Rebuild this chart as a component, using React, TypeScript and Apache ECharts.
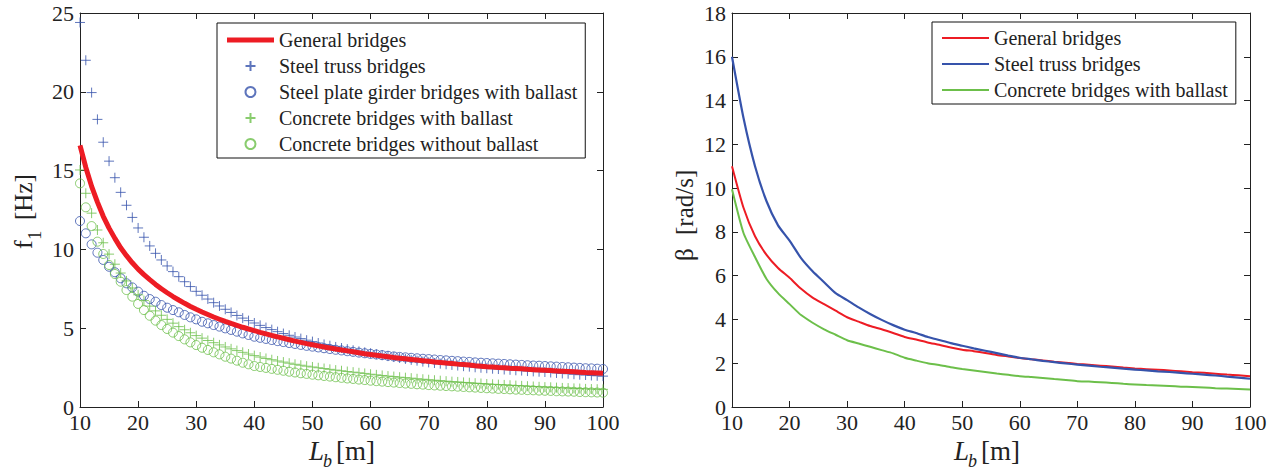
import React, { useEffect, useRef } from "react";
import * as echarts from "echarts";

// ---------- Data ----------
const LB_LEFT: number[] = Array.from({ length: 91 }, (_, i) => 10 + i);
const LB_RIGHT: number[] = Array.from({ length: 46 }, (_, i) => 10 + 2 * i);

const F_GENERAL = [16.6, 15.2, 14.0, 13.0, 12.1, 11.35, 10.7, 10.1, 9.6, 9.15,
  8.75, 8.4, 8.08, 7.78, 7.5, 7.25, 7.01, 6.79, 6.58, 6.38,
  6.2, 6.03, 5.87, 5.71, 5.57, 5.43, 5.3, 5.18, 5.06, 4.95,
  4.85, 4.74, 4.64, 4.54, 4.45, 4.36, 4.27, 4.18, 4.1, 4.02,
  3.95, 3.88, 3.81, 3.74, 3.68, 3.62, 3.56, 3.5, 3.44, 3.38,
  3.33, 3.28, 3.23, 3.19, 3.14, 3.1, 3.06, 3.02, 2.98, 2.94,
  2.9, 2.86, 2.83, 2.79, 2.76, 2.72, 2.69, 2.66, 2.62, 2.59,
  2.56, 2.54, 2.51, 2.49, 2.46, 2.44, 2.42, 2.39, 2.37, 2.35,
  2.33, 2.31, 2.29, 2.27, 2.25, 2.23, 2.21, 2.19, 2.18, 2.16, 2.14];

const F_STEEL_TRUSS = [24.4, 22.0, 19.95, 18.25, 16.8, 15.6, 14.55, 13.62, 12.8, 12.03,
  11.36, 10.77, 10.22, 9.75, 9.33, 8.95, 8.59, 8.27, 7.95, 7.64,
  7.34, 7.09, 6.85, 6.62, 6.41, 6.2, 6.0, 5.81, 5.64, 5.48,
  5.33, 5.18, 5.04, 4.91, 4.78, 4.66, 4.55, 4.44, 4.34, 4.24,
  4.15, 4.06, 3.97, 3.89, 3.81, 3.74, 3.67, 3.6, 3.53, 3.47,
  3.41, 3.35, 3.29, 3.23, 3.17, 3.11, 3.05, 2.99, 2.94, 2.88,
  2.83, 2.79, 2.75, 2.71, 2.67, 2.63, 2.59, 2.56, 2.52, 2.49,
  2.46, 2.43, 2.41, 2.38, 2.36, 2.33, 2.31, 2.28, 2.26, 2.24,
  2.22, 2.19, 2.16, 2.13, 2.11, 2.08, 2.05, 2.03, 2.0, 1.98, 1.96];

const F_STEEL_PLATE = [11.8, 11.02, 10.32, 9.79, 9.33, 8.9, 8.55, 8.17, 7.85, 7.59,
  7.32, 7.06, 6.85, 6.68, 6.47, 6.3, 6.15, 6.01, 5.84, 5.69,
  5.56, 5.41, 5.31, 5.2, 5.1, 4.99, 4.89, 4.78, 4.67, 4.57,
  4.46, 4.39, 4.32, 4.25, 4.18, 4.12, 4.06, 4.0, 3.94, 3.88,
  3.83, 3.78, 3.73, 3.68, 3.63, 3.59, 3.54, 3.5, 3.45, 3.41,
  3.37, 3.33, 3.29, 3.25, 3.21, 3.18, 3.15, 3.12, 3.09, 3.06,
  3.04, 3.01, 2.98, 2.96, 2.93, 2.91, 2.88, 2.86, 2.83, 2.81,
  2.79, 2.77, 2.75, 2.73, 2.71, 2.69, 2.67, 2.65, 2.63, 2.62,
  2.6, 2.58, 2.56, 2.54, 2.52, 2.5, 2.48, 2.46, 2.45, 2.43, 2.41];

const F_CONCRETE_WITH = [15.04, 13.56, 12.3, 11.23, 10.42, 9.7, 9.06, 8.5, 8.0, 7.55,
  7.12, 6.75, 6.4, 6.1, 5.82, 5.56, 5.32, 5.1, 4.9, 4.71,
  4.53, 4.37, 4.22, 4.08, 3.94, 3.81, 3.69, 3.58, 3.47, 3.36,
  3.26, 3.17, 3.08, 3.0, 2.92, 2.85, 2.78, 2.71, 2.65, 2.59,
  2.54, 2.49, 2.44, 2.39, 2.34, 2.3, 2.25, 2.21, 2.17, 2.13,
  2.08, 2.04, 2.0, 1.96, 1.93, 1.89, 1.86, 1.83, 1.79, 1.76,
  1.73, 1.7, 1.67, 1.64, 1.61, 1.59, 1.56, 1.54, 1.51, 1.49,
  1.46, 1.44, 1.42, 1.4, 1.38, 1.36, 1.34, 1.32, 1.3, 1.28,
  1.26, 1.25, 1.23, 1.21, 1.2, 1.18, 1.17, 1.15, 1.14, 1.13, 1.12];

const F_CONCRETE_WITHOUT = [14.19, 12.67, 11.48, 10.49, 9.71, 9.01, 8.44, 7.95, 7.42, 7.0,
  6.54, 6.15, 5.79, 5.48, 5.2, 4.95, 4.72, 4.5, 4.29, 4.1,
  3.93, 3.76, 3.62, 3.47, 3.34, 3.19, 3.07, 2.94, 2.81, 2.71,
  2.6, 2.54, 2.48, 2.42, 2.36, 2.3, 2.24, 2.19, 2.14, 2.1,
  2.05, 2.01, 1.97, 1.93, 1.89, 1.85, 1.81, 1.78, 1.74, 1.71,
  1.67, 1.64, 1.61, 1.58, 1.55, 1.52, 1.49, 1.47, 1.44, 1.42,
  1.39, 1.37, 1.35, 1.33, 1.31, 1.29, 1.27, 1.25, 1.23, 1.21,
  1.19, 1.17, 1.15, 1.14, 1.12, 1.1, 1.09, 1.07, 1.06, 1.04,
  1.03, 1.02, 1.0, 0.99, 0.98, 0.97, 0.95, 0.94, 0.93, 0.92, 0.91];

const B_GENERAL = [11.0, 9.1, 7.8, 6.95, 6.35, 5.9, 5.4, 5.0, 4.7, 4.4,
  4.1, 3.9, 3.7, 3.55, 3.38, 3.2, 3.08, 2.95, 2.84, 2.72,
  2.62, 2.55, 2.47, 2.38, 2.31, 2.24, 2.18, 2.13, 2.07, 2.02,
  1.97, 1.93, 1.89, 1.85, 1.8, 1.76, 1.73, 1.7, 1.67, 1.63,
  1.59, 1.56, 1.52, 1.48, 1.45, 1.41];

const B_STEEL_TRUSS = [16.0, 13.2, 11.0, 9.4, 8.3, 7.6, 6.8, 6.2, 5.7, 5.2,
  4.88, 4.55, 4.25, 3.98, 3.74, 3.53, 3.38, 3.2, 3.06, 2.92,
  2.8, 2.68, 2.57, 2.46, 2.35, 2.25, 2.18, 2.11, 2.05, 1.99,
  1.94, 1.89, 1.84, 1.8, 1.75, 1.71, 1.67, 1.63, 1.6, 1.56,
  1.52, 1.48, 1.44, 1.39, 1.34, 1.29];

const B_CONCRETE_WITH = [9.95, 7.95, 6.85, 5.85, 5.2, 4.7, 4.2, 3.85, 3.55, 3.3,
  3.05, 2.9, 2.75, 2.6, 2.45, 2.25, 2.12, 2.0, 1.92, 1.82,
  1.74, 1.67, 1.6, 1.53, 1.47, 1.41, 1.37, 1.33, 1.28, 1.23,
  1.18, 1.16, 1.13, 1.1, 1.06, 1.03, 1.0, 0.98, 0.96, 0.93,
  0.91, 0.89, 0.86, 0.84, 0.82, 0.8];

const LEFT_NAMES = [
  "General bridges",
  "Steel truss bridges",
  "Steel plate girder bridges with ballast",
  "Concrete bridges with ballast",
  "Concrete bridges without ballast",
];
// trailing space keeps right-panel legend entries separate from left ones
const RIGHT_NAMES = ["General bridges ", "Steel truss bridges ", "Concrete bridges with ballast "];

const RED = "#ed1c24";
const BLUE = "#3653ab";
const GREEN = "#6cbf4a";
const INK = "#222222";
const SERIF = '"Liberation Serif", "Times New Roman", serif';
const PLUS = "path://M5 0L5 10M0 5L10 5";
const THICK_BAR = "path://M0 0H47V5H0Z";
const THIN_BAR = "path://M0 0H47V2.2H0Z";

const zip = (xs: number[], ys: number[]) => ys.map((y, i) => [xs[i], y]);

function axisCommon(show: boolean, margin: number) {
  return {
    type: "value" as const,
    axisLine: { show: true, onZero: false, lineStyle: { color: INK, width: 1 } },
    axisTick: { show: true, inside: true, length: 6, lineStyle: { color: INK, width: 1 } },
    axisLabel: { show, color: INK, fontFamily: SERIF, fontSize: 22, lineHeight: 14, margin },
    splitLine: { show: false },
  };
}

const txt = (text: string, x: number, y: number, size: number, italic = false) => ({
  type: "text",
  x,
  y,
  style: {
    text,
    font: `${italic ? "italic " : ""}${size}px "Liberation Serif"`,
    fill: INK,
    align: "left",
    verticalAlign: "middle",
  },
});

export default function App() {
  const ref = useRef<HTMLDivElement>(null);

  useEffect(() => {
    if (!ref.current) return;
    const chart = echarts.init(ref.current, undefined, { renderer: "svg" });

    const xL = { min: 10, max: 100, interval: 10 };
    const yL = { min: 0, max: 25, interval: 5 };
    const yR = { min: 0, max: 18, interval: 2 };

    const legendBase = {
      orient: "vertical" as const,
      itemWidth: 47,
      itemHeight: 10,
      itemGap: 6,
      borderColor: "#111",
      borderWidth: 1,
      borderRadius: 0,
      selectedMode: false,
      textStyle: { fontFamily: SERIF, fontSize: 20, color: INK, lineHeight: 20 },
      formatter: (n: string) => n.trim(),
    };

    const option: any = {
      animation: false,
      backgroundColor: "#fff",
      grid: [
        { left: 80, right: 671, top: 13, bottom: 63 },
        { left: 732, right: 24, top: 13, bottom: 63 },
      ],
      xAxis: [
        { ...axisCommon(true, 8), ...xL, gridIndex: 0, position: "bottom" },
        { ...axisCommon(false, 8), ...xL, gridIndex: 0, position: "top" },
        { ...axisCommon(true, 8), ...xL, gridIndex: 1, position: "bottom" },
        { ...axisCommon(false, 8), ...xL, gridIndex: 1, position: "top" },
      ],
      yAxis: [
        { ...axisCommon(true, 6), ...yL, gridIndex: 0, position: "left" },
        { ...axisCommon(false, 6), ...yL, gridIndex: 0, position: "right" },
        { ...axisCommon(true, 6), ...yR, gridIndex: 1, position: "left" },
        { ...axisCommon(false, 6), ...yR, gridIndex: 1, position: "right" },
      ],
      legend: [
        {
          ...legendBase,
          data: [
            { name: LEFT_NAMES[0], icon: THICK_BAR },
            LEFT_NAMES[1],
            LEFT_NAMES[2],
            LEFT_NAMES[3],
            LEFT_NAMES[4],
          ],
          left: 217, top: 23, padding: [7, 8, 4, 10],
        },
        {
          ...legendBase,
          data: RIGHT_NAMES.map((n) => ({ name: n, icon: THIN_BAR })),
          left: 932, top: 22, padding: [6, 8, 4, 10],
        },
      ],
      series: [
        {
          name: LEFT_NAMES[0], type: "line", xAxisIndex: 0, yAxisIndex: 0,
          data: zip(LB_LEFT, F_GENERAL), symbol: "none", showSymbol: false,
          lineStyle: { color: RED, width: 5 }, itemStyle: { color: RED },
        },
        {
          name: LEFT_NAMES[1], type: "scatter", xAxisIndex: 0, yAxisIndex: 0,
          data: zip(LB_LEFT, F_STEEL_TRUSS), symbol: PLUS, symbolSize: 10,
          itemStyle: { color: "rgba(0,0,0,0)", borderColor: BLUE, borderWidth: 1 },
        },
        {
          name: LEFT_NAMES[2], type: "scatter", xAxisIndex: 0, yAxisIndex: 0,
          data: zip(LB_LEFT, F_STEEL_PLATE), symbol: "circle", symbolSize: 9,
          itemStyle: { color: "rgba(0,0,0,0)", borderColor: BLUE, borderWidth: 1 },
        },
        {
          name: LEFT_NAMES[3], type: "scatter", xAxisIndex: 0, yAxisIndex: 0,
          data: zip(LB_LEFT, F_CONCRETE_WITH), symbol: PLUS, symbolSize: 10,
          itemStyle: { color: "rgba(0,0,0,0)", borderColor: GREEN, borderWidth: 1 },
        },
        {
          name: LEFT_NAMES[4], type: "scatter", xAxisIndex: 0, yAxisIndex: 0,
          data: zip(LB_LEFT, F_CONCRETE_WITHOUT), symbol: "circle", symbolSize: 9,
          itemStyle: { color: "rgba(0,0,0,0)", borderColor: GREEN, borderWidth: 1 },
        },
        {
          name: RIGHT_NAMES[0], type: "line", xAxisIndex: 2, yAxisIndex: 2,
          data: zip(LB_RIGHT, B_GENERAL), symbol: "none", showSymbol: false, smooth: 0.2,
          lineStyle: { color: RED, width: 2 }, itemStyle: { color: RED },
        },
        {
          name: RIGHT_NAMES[1], type: "line", xAxisIndex: 2, yAxisIndex: 2,
          data: zip(LB_RIGHT, B_STEEL_TRUSS), symbol: "none", showSymbol: false, smooth: 0.2,
          lineStyle: { color: BLUE, width: 2.2 }, itemStyle: { color: BLUE },
        },
        {
          name: RIGHT_NAMES[2], type: "line", xAxisIndex: 2, yAxisIndex: 2,
          data: zip(LB_RIGHT, B_CONCRETE_WITH), symbol: "none", showSymbol: false, smooth: 0.2,
          lineStyle: { color: GREEN, width: 2 }, itemStyle: { color: GREEN },
        },
      ],
      graphic: [
        // left x title
        txt("L", 309, 451, 27, true),
        txt("b", 323, 461, 18, true),
        txt("[m]", 336, 451, 27),
        // right x title
        txt("L", 954, 451, 27, true),
        txt("b", 968, 461, 18, true),
        txt("[m]", 981, 451, 27),
        // left y title
        {
          type: "group", x: 23, y: 249, rotation: Math.PI / 2,
          children: [
            txt("f", 0, 0, 26),
            txt("1", 9, 11, 19),
            txt("[Hz]", 29, 0, 25),
          ],
        },
        // right y title
        {
          type: "group", x: 684, y: 261, rotation: Math.PI / 2,
          children: [
            txt("β", 0, 0, 25),
            txt("[rad/s]", 26, 0, 25),
          ],
        },
      ],
    };

    chart.setOption(option);
    return () => chart.dispose();
  }, []);

  return (
    <div
      ref={ref}
      style={{ position: "fixed", left: 0, top: 0, width: 1274, height: 470, background: "#fff" }}
    />
  );
}
